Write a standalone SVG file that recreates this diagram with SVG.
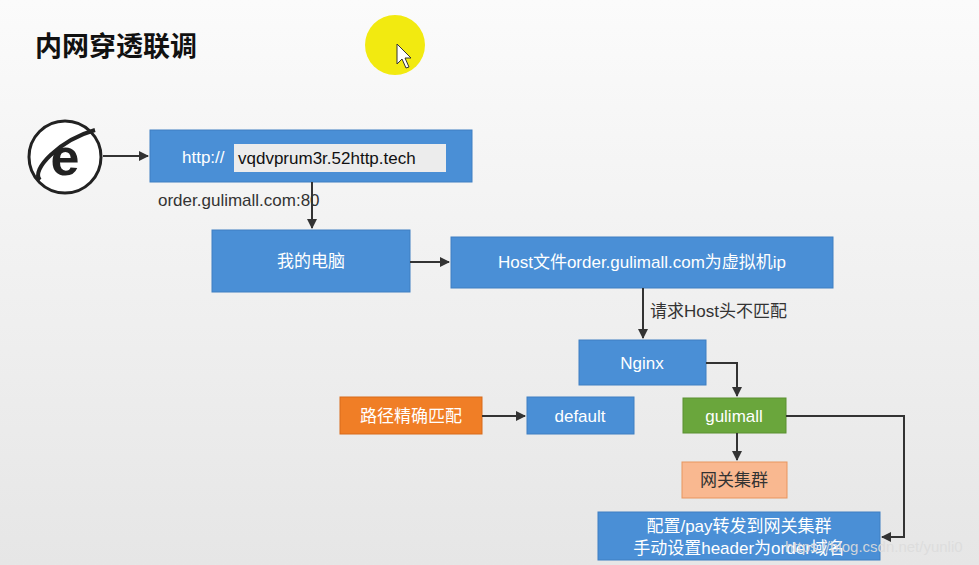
<svg xmlns="http://www.w3.org/2000/svg" width="979" height="565" viewBox="0 0 979 565">
<style>
.b{fill:#4a8fd6;stroke:#3f7fc2;stroke-width:1}
.w{fill:#fff;font-family:"Liberation Sans","Noto Sans CJK SC",sans-serif;font-size:17px;text-anchor:middle}
.k{fill:#333;font-family:"Liberation Sans","Noto Sans CJK SC",sans-serif;font-size:17px}
.c{fill:none;stroke:#333;stroke-width:2}
</style>
<defs>
<linearGradient id="bg" x1="0" y1="0" x2="0" y2="1"><stop offset="0" stop-color="#fbfbfb"/><stop offset="1" stop-color="#e6e6e6"/></linearGradient>
<marker id="a" viewBox="0 0 10 10" refX="9" refY="5" markerWidth="5" markerHeight="5" orient="auto"><path d="M0,0L10,5L0,10z" fill="#333"/></marker>
</defs>
<rect width="979" height="565" fill="url(#bg)"/>
<text x="35" y="56" font-family="Noto Sans CJK SC,sans-serif" font-weight="bold" font-size="27" fill="#111">内网穿透联调</text>
<circle cx="395" cy="45" r="30" fill="#f2ea10"/>
<path d="M397,44 L397,64 L402,59 L406,68 L409,67 L405,58 L411,58 Z" fill="#fff" stroke="#333" stroke-width="1"/>
<g id="ie">
<circle cx="65" cy="157" r="36" fill="#fff" stroke="#222" stroke-width="3"/>
<text x="65" y="175" font-family="Liberation Sans,sans-serif" font-weight="bold" font-size="52" fill="#222" text-anchor="middle">e</text>
<path d="M40,180 C30,170 60,140 95,130" fill="none" stroke="#222" stroke-width="4"/>
</g>
<g id="url">
<rect class="b" x="150" y="130" width="322" height="52"/>
<text x="182" y="163" class="w" style="text-anchor:start">http://</text>
<rect x="234" y="144" width="212" height="28" fill="#ececec"/>
<text x="238" y="164" font-family="Liberation Sans,sans-serif" font-size="17" fill="#111">vqdvprum3r.52http.tech</text>
</g>
<g id="pc"><rect class="b" x="212" y="230" width="198" height="62"/><text x="311" y="267" class="w">我的电脑</text></g>
<g id="host"><rect class="b" x="451" y="237" width="382" height="51"/><text x="642" y="268" class="w">Host文件order.gulimall.com为虚拟机ip</text></g>
<g id="nginx"><rect class="b" x="579" y="340" width="127" height="45"/><text x="642" y="369" class="w">Nginx</text></g>
<g id="path"><rect x="340" y="397" width="142" height="37" fill="#f07e26" stroke="#d86a1a"/><text x="411" y="422" class="w">路径精确匹配</text></g>
<g id="default"><rect class="b" x="527" y="397" width="107" height="37"/><text x="580" y="422" class="w">default</text></g>
<g id="gulimall"><rect x="683" y="398" width="103" height="35" fill="#6aa63c" stroke="#5a9030"/><text x="734" y="422" class="w">gulimall</text></g>
<g id="gw"><rect x="682" y="462" width="105" height="36" fill="#f9b890" stroke="#e8955e"/><text x="734" y="486" class="k" text-anchor="middle">网关集群</text></g>
<g id="cfg"><rect class="b" x="598" y="512" width="282" height="48"/><text x="739" y="532" class="w">配置/pay转发到网关集群</text><text x="739" y="554" class="w">手动设置header为order域名</text></g>
<g id="connectors">
<line class="c" x1="103" y1="156" x2="148" y2="156" marker-end="url(#a)"/>
<line class="c" x1="312" y1="182" x2="312" y2="228" marker-end="url(#a)"/>
<line class="c" x1="410" y1="262" x2="449" y2="262" marker-end="url(#a)"/>
<line class="c" x1="643" y1="288" x2="643" y2="338" marker-end="url(#a)"/>
<path class="c" d="M706,363H737V396" marker-end="url(#a)"/>
<line class="c" x1="482" y1="416" x2="525" y2="416" marker-end="url(#a)"/>
<line class="c" x1="737" y1="433" x2="737" y2="460" marker-end="url(#a)"/>
<path class="c" d="M786,416H904V537H882" marker-end="url(#a)"/>
</g>
<text x="158" y="206" class="k">order.gulimall.com:80</text>
<text x="650" y="317" class="k">请求Host头不匹配</text>
<text x="785" y="552" font-family="Liberation Sans,sans-serif" font-size="15" fill="#ddd" opacity="0.9">https://blog.csdn.net/yunli0</text>
</svg>
